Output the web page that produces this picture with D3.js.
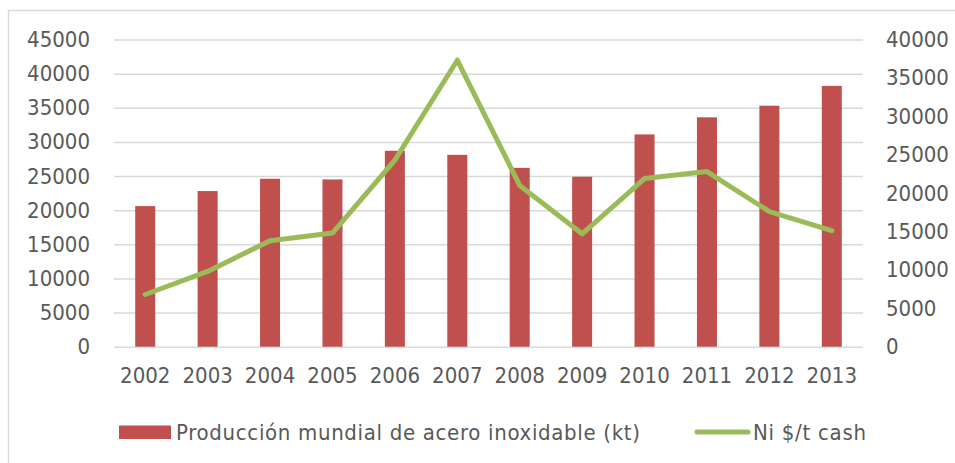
<!DOCTYPE html>
<html>
<head>
<meta charset="utf-8">
<script src="https://cdn.jsdelivr.net/npm/d3@7"></script>
<style>
  body { margin: 0; background: #fff; }
  text { font-family: "DejaVu Sans Condensed", "DejaVu Sans", Verdana, sans-serif; fill: #595959; }
</style>
</head>
<body>
<div id="chart"></div>
<script>
// Data
const years = ["2002", "2003", "2004", "2005", "2006", "2007", "2008", "2009", "2010", "2011", "2012", "2013"];
const steel = [20600, 22800, 24600, 24500, 28700, 28100, 26200, 24900, 31100, 33600, 35300, 38200];
const nickel = [6800, 9800, 13800, 14800, 24300, 37300, 21000, 14700, 21900, 22800, 17600, 15100];
const leftTicks = [0, 5000, 10000, 15000, 20000, 25000, 30000, 35000, 40000, 45000];
const rightTicks = [0, 5000, 10000, 15000, 20000, 25000, 30000, 35000, 40000];
const barName = "Producción mundial de acero inoxidable (kt)";
const lineName = "Ni $/t cash";

const svgW = 955, svgH = 463;
const plot = { left: 114, right: 863, top: 39.5, bottom: 346.7 };
const fontSize = "22px";

const svg = d3.select("#chart").append("svg")
  .attr("width", svgW)
  .attr("height", svgH);

// chart border
svg.append("rect")
  .attr("x", 8.5).attr("y", 10.5)
  .attr("width", 960).attr("height", 470)
  .attr("fill", "none")
  .attr("stroke", "#d9d9d9")
  .attr("stroke-width", 1.5);

const x = d3.scaleBand()
  .domain(years)
  .range([plot.left, plot.right]);

const yL = d3.scaleLinear().domain([0, 45000]).range([plot.bottom, plot.top]);
const yR = d3.scaleLinear().domain([0, 40000]).range([plot.bottom, plot.top]);

// gridlines + left axis
const leftAxis = d3.axisLeft(yL)
  .tickValues(leftTicks)
  .tickFormat(d3.format("d"))
  .tickSize(-(plot.right - plot.left))
  .tickPadding(24);

const gL = svg.append("g")
  .attr("transform", `translate(${plot.left},0)`)
  .call(leftAxis);
gL.select(".domain").remove();
gL.selectAll("line").attr("stroke", "#d9d9d9").attr("stroke-width", 1.5);
gL.selectAll("text").style("font-size", fontSize).attr("fill", "#595959");

// right axis (labels only)
const rightAxis = d3.axisRight(yR)
  .tickValues(rightTicks)
  .tickFormat(d3.format("d"))
  .tickSize(0)
  .tickPadding(23);

const gR = svg.append("g")
  .attr("transform", `translate(${plot.right},0)`)
  .call(rightAxis);
gR.select(".domain").remove();
gR.selectAll("text").style("font-size", fontSize).attr("fill", "#595959");

// x axis labels
const bottomAxis = d3.axisBottom(x).tickSize(0).tickPadding(21);
const gX = svg.append("g")
  .attr("transform", `translate(0,${plot.bottom})`)
  .call(bottomAxis);
gX.select(".domain").remove();
gX.selectAll("text").style("font-size", fontSize).attr("fill", "#595959");

// bars
const barW = 20;
svg.append("g")
  .selectAll("rect")
  .data(steel)
  .enter()
  .append("rect")
  .attr("x", (d, i) => x(years[i]) + x.bandwidth() / 2 - barW / 2)
  .attr("y", d => yL(d))
  .attr("width", barW)
  .attr("height", d => yL(0) - yL(d))
  .attr("fill", "#c0504d");

// line
const line = d3.line()
  .x((d, i) => x(years[i]) + x.bandwidth() / 2)
  .y(d => yR(d));

svg.append("path")
  .datum(nickel)
  .attr("d", line)
  .attr("fill", "none")
  .attr("stroke", "#9bbb59")
  .attr("stroke-width", 5)
  .attr("stroke-linejoin", "round")
  .attr("stroke-linecap", "round");

// legend
const legend = svg.append("g");
legend.append("rect")
  .attr("x", 119).attr("y", 425.5)
  .attr("width", 52).attr("height", 13.5)
  .attr("fill", "#c0504d");
legend.append("text")
  .attr("x", 176).attr("y", 440)
  .style("font-size", fontSize)
  .attr("textLength", 464)
  .attr("lengthAdjust", "spacing")
  .text(barName);
legend.append("line")
  .attr("x1", 697).attr("x2", 748)
  .attr("y1", 432).attr("y2", 432)
  .attr("stroke", "#9bbb59")
  .attr("stroke-width", 5)
  .attr("stroke-linecap", "round");
legend.append("text")
  .attr("x", 753).attr("y", 440)
  .style("font-size", fontSize)
  .attr("textLength", 113)
  .attr("lengthAdjust", "spacing")
  .text(lineName);
</script>
</body>
</html>
